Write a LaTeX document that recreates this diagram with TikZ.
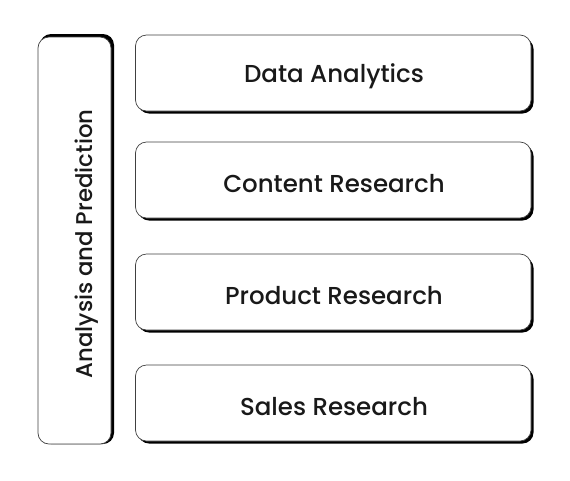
\documentclass[tikz,border=0pt]{standalone}
\usepackage{fontspec}
\setmainfont{Poppins}[UprightFont={* Medium},BoldFont={* SemiBold}]
\begin{document}
\begin{tikzpicture}[x=1pt,y=-1pt,
  boxshadow/.style={fill=black,rounded corners=11pt},
  boxface/.style={draw=black!75,line width=0.7pt,fill=white,rounded corners=11pt},
  lbl/.style={font=\fontsize{24.5}{28}\selectfont,text=black!90},
  sidelbl/.style={font=\fontsize{22.8}{26}\selectfont,text=black!90}]
\useasboundingbox (0,0) rectangle (570,480);
% left box
\fill[boxshadow] (40,34) rectangle (114,444);
\draw[boxface] (38,37) rectangle (111,444);
\node[sidelbl,rotate=90] (ap) at (87,244) {Analysis and Prediction};
% right boxes
\foreach \t/\b/\name/\txt in {35/111/da/Data Analytics,142/218/cr/Content Research,254/330/pr/Product Research,365/441/sr/Sales Research}{
  \fill[boxshadow] (138,\t+3) rectangle (533.5,\b+2.5);
  \draw[boxface] (135.5,\t) rectangle (531,\b);
  \node[lbl] (\name) at (334,{(\t+\b)/2+3.5}) {\txt};
}
\end{tikzpicture}
\end{document}
